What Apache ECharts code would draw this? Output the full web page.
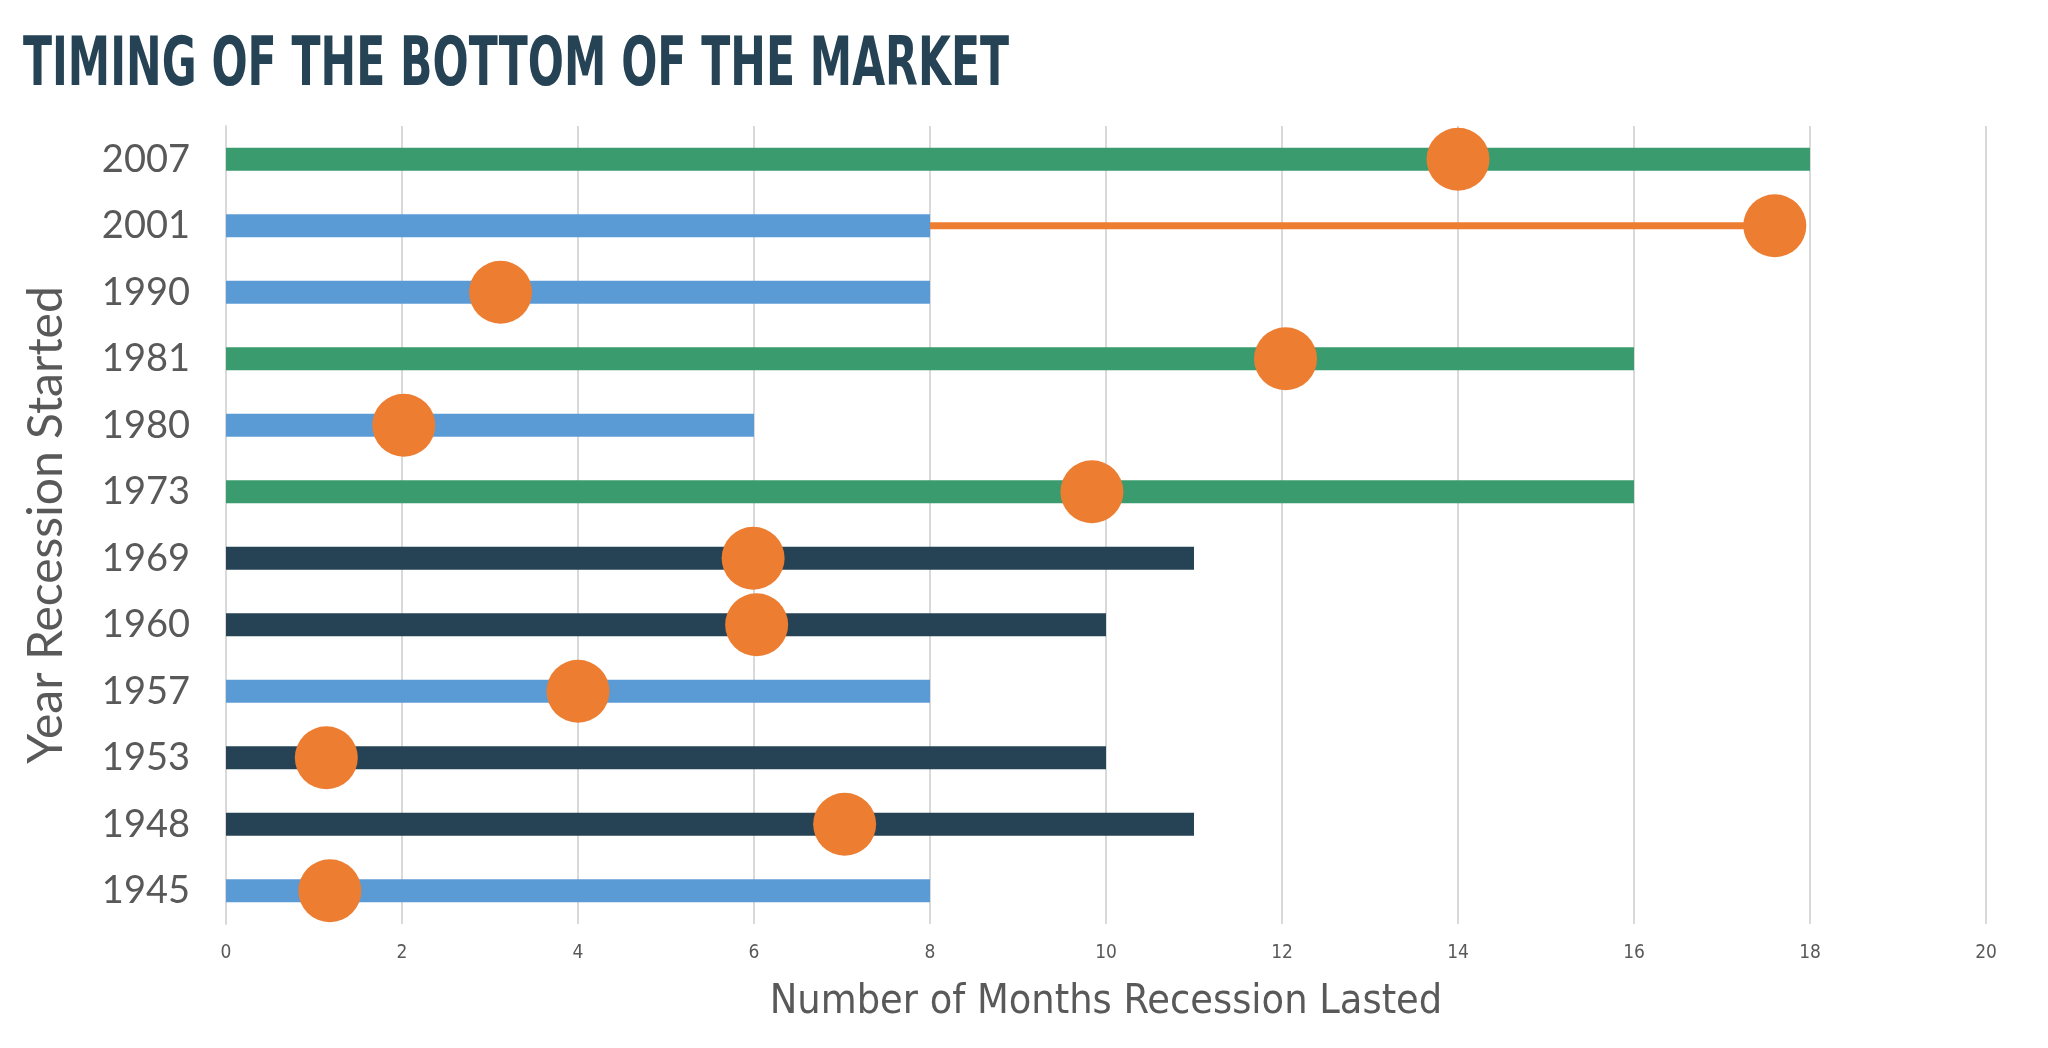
<!DOCTYPE html>
<html><head><meta charset="utf-8">
<script src="https://cdn.jsdelivr.net/npm/echarts@6/dist/echarts.min.js"></script>
<style>html,body{margin:0;padding:0;background:#fff}#c{width:2048px;height:1048px}</style>
</head><body><div id="c"></div>
<script>
// Data (bottom to top)
const years = ['1945','1948','1953','1957','1960','1969','1973','1980','1981','1990','2001','2007'];
const monthsLasted = [8, 11, 10, 8, 10, 11, 16, 6, 16, 8, 8, 18];
const bottomMonth = [1.18, 7.03, 1.14, 4.0, 6.03, 5.99, 9.84, 2.02, 12.04, 3.12, 17.6, 14.0];
const groups = ['short','mid','mid','short','mid','mid','long','short','long','short','short','long'];
const extYear = '2001';
const extRange = [8, 17.6];
const xTicks = [0, 20, 2];
const titleText = 'TIMING OF THE BOTTOM OF THE MARKET';

const groupColor = {short:'#5B9BD5', mid:'#264355', long:'#3A9B6E'};
const orange = '#ED7D31';
const grey = '#595959';

const titleFont = 'bold 68px "DejaVu Sans Condensed", "DejaVu Sans"';
const mctx = document.createElement('canvas').getContext('2d');
mctx.font = titleFont;
const titleScale = 986 / mctx.measureText(titleText).width;

const chart = echarts.init(document.getElementById('c'));
chart.setOption({
  animation: false,
  backgroundColor: '#fff',
  graphic: [{
    type: 'text', x: 23, y: 67, scaleX: titleScale, scaleY: 1,
    style: { text: titleText, fill: '#264355', font: titleFont, verticalAlign: 'middle', align: 'left' }
  }],
  grid: { left: 226, right: 62, top: 126, bottom: 124, outerBoundsMode: 'none', containLabel: false },
  xAxis: {
    type: 'value', min: xTicks[0], max: xTicks[1], interval: xTicks[2],
    axisLine: { show: false }, axisTick: { show: false },
    splitLine: { show: true, lineStyle: { color: '#D9D9D9', width: 2 } },
    axisLabel: { color: grey, fontSize: 19, fontFamily: '"DejaVu Sans Condensed"', margin: 20 },
    name: 'Number of Months Recession Lasted', nameLocation: 'middle', nameGap: 58,
    nameTextStyle: { color: grey, fontSize: 41, fontFamily: '"DejaVu Sans Condensed"' }
  },
  yAxis: {
    type: 'category', data: years,
    axisLine: { show: true, lineStyle: { color: '#D9D9D9', width: 2 } },
    axisTick: { show: false },
    axisLabel: { color: grey, fontSize: 38, fontFamily: 'Lato', margin: 36 },
    name: 'Year Recession Started', nameLocation: 'middle', nameGap: 155, nameRotate: 90,
    nameTextStyle: { color: grey, fontSize: 48, fontFamily: 'Lato' }
  },
  series: [
    {
      type: 'bar', barWidth: 23, z: 2,
      data: monthsLasted.map((v, i) => ({ value: v, itemStyle: { color: groupColor[groups[i]] } }))
    },
    {
      type: 'line', z: 3, symbol: 'none',
      lineStyle: { color: orange, width: 7 },
      data: extRange.map(v => [v, extYear])
    },
    {
      type: 'scatter', z: 4, symbolSize: 63,
      itemStyle: { color: orange, opacity: 1 },
      data: bottomMonth.map((v, i) => [v, years[i]])
    }
  ]
});
</script></body></html>
